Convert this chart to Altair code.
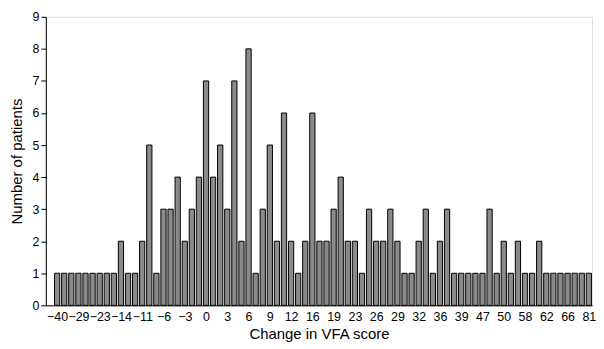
import altair as alt
import pandas as pd

counts = [1, 1, 1, 1, 1, 1, 1, 1, 1,
          2, 1, 1, 2, 5, 1, 3, 3, 4, 2,
          3, 4, 7, 4, 5, 3, 7, 2, 8, 1,
          3, 5, 2, 6, 2, 1, 2, 6, 2, 2,
          3, 4, 2, 2, 1, 3, 2, 2, 3, 2,
          1, 1, 2, 3, 1, 2, 3, 1, 1, 1,
          1, 1, 3, 1, 2, 1, 2, 1, 1, 2,
          1, 1, 1, 1, 1, 1, 1]
tick_labels = ["-40", "-29", "-23", "-14", "-11", "-6", "-3", "0", "3", "6", "9", "12",
               "16", "19", "23", "26", "29", "32", "36", "39", "47", "50", "58", "62",
               "66", "81"]

df = pd.DataFrame({"idx": list(range(len(counts))), "count": counts})

label_arr = "[" + ",".join("'" + t.replace("-", "\u2212") + "'" for t in tick_labels) + "]"

chart = alt.Chart(df).transform_calculate(
    x0="datum.idx - 0.37", x1="datum.idx + 0.37", base="0"
).mark_bar(fill="#8a8a8a", stroke="black", strokeWidth=1).encode(
    x=alt.X("x0:Q",
            scale=alt.Scale(domain=[-1.6, 75.45], nice=False, zero=False),
            axis=alt.Axis(title="Change in VFA score",
                          values=[i * 3 for i in range(len(tick_labels))],
                          labelExpr=label_arr + "[round(datum.value/3)]",
                          ticks=False, grid=False, domainColor="black",
                          labelColor="black", labelFont="Liberation Sans",
                          labelFontSize=12.5, labelPadding=5,
                          titleFont="Liberation Sans", titleFontSize=15,
                          titleFontWeight="normal", titleColor="black",
                          titlePadding=4, labelFlush=False)),
    x2="x1:Q",
    y=alt.Y("count:Q",
            scale=alt.Scale(domain=[0, 9], nice=False),
            axis=alt.Axis(title="Number of patients", values=list(range(10)),
                          grid=False, domainColor="black", tickColor="black",
                          tickSize=5, labelColor="black",
                          labelFont="Liberation Sans", labelFontSize=12.5,
                          labelPadding=2,
                          titleFont="Liberation Sans", titleFontSize=15,
                          titleFontWeight="normal", titleColor="black",
                          titlePadding=7)),
    y2="base:Q",
).properties(
    width=549, height=290,
    padding={"left": 2, "top": 2, "right": 0, "bottom": 0}
).configure_view(stroke=None).configure(background="white")

chart.save("out.html", embed_options={"renderer": "svg", "actions": False})
